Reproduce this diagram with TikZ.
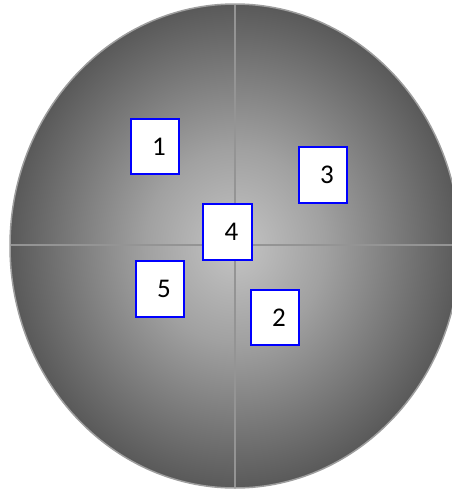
\documentclass[tikz,border=0pt]{standalone}
\usepackage{fontspec}
\setmainfont{Carlito}
\definecolor{ctr}{gray}{0.77}
\definecolor{mid}{gray}{0.63}
\definecolor{edg}{gray}{0.35}
\definecolor{axisgray}{gray}{0.58}
\definecolor{rimgray}{gray}{0.62}
\pgfdeclareradialshading{disc}{\pgfpoint{0bp}{0bp}}{color(0bp)=(ctr); color(10bp)=(mid); color(25bp)=(edg); color(50bp)=(edg)}
\begin{document}
\begin{tikzpicture}[x=1pt,y=-1pt,
  numbox/.style={draw=blue, line width=2pt, fill=white, minimum width=48.5pt, minimum height=55.5pt, inner sep=0pt, font=\fontsize{27}{27}\selectfont},
  axisline/.style={draw=axisgray, line width=1.5pt}]
\useasboundingbox (0,0) rectangle (452,491);
\begin{scope}
  \clip (0,0) rectangle (452,491);
  \shade[shading=disc] (235,246) ellipse [x radius=225, y radius=242];
  \begin{scope}
    \clip (235,246) ellipse [x radius=225, y radius=242];
    \coordinate (vt) at (235,0);
    \coordinate (vb) at (235,491);
    \coordinate (hl) at (0,245);
    \coordinate (hr) at (452,245);
    \draw[axisline] (vt) -- (vb);
    \draw[axisline] (hl) -- (hr);
  \end{scope}
  \draw[rimgray, line width=1.5pt] (235,246) ellipse [x radius=225, y radius=242];
\end{scope}
\node[numbox] (n1) at (155,146.5) {\hspace*{8pt}1};
\node[numbox] (n3) at (323,175) {\hspace*{8pt}3};
\node[numbox] (n4) at (227.5,232) {\hspace*{8pt}4};
\node[numbox] (n5) at (160,289) {\hspace*{8pt}5};
\node[numbox] (n2) at (275,317.5) {\hspace*{8pt}2};
\end{tikzpicture}
\end{document}
